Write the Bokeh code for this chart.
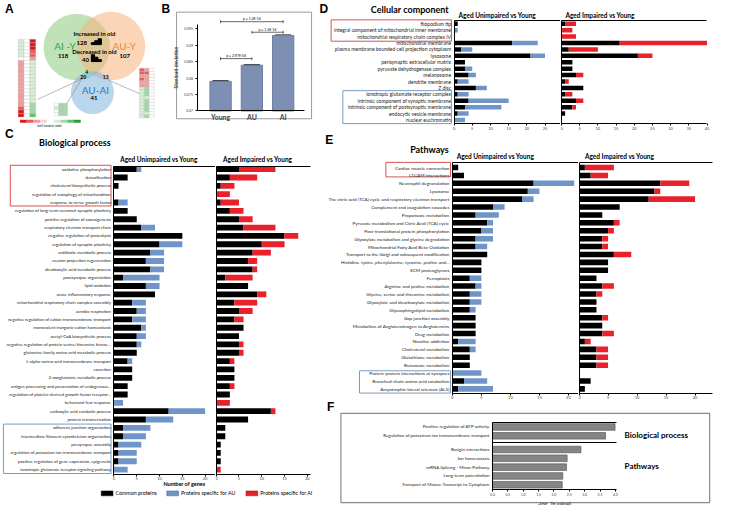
from bokeh.plotting import figure
from bokeh.layouts import row, column
from bokeh.models import (ColumnDataSource, Range1d, FixedTicker, LinearAxis, Label,
                          Whisker, TeeHead, LinearColorMapper)
from bokeh.core.properties import value
from bokeh.embed import file_html
from bokeh.resources import INLINE

# ======================= DATA =======================
# Panel A: Venn counts
venn_names = ["AI -Y", "AU-Y", "AU-AI"]
venn_unique = [118, 107, 41]
venn_inc_old = 128
venn_dec_old = 40
venn_all = 4
venn_ai_auai = 20
venn_au_auai = 13
# heatmap log2 ratios (approximate colour reading)
hm_left = [
    [0.20, 0.10, -0.85], [0.25, 0.10, -0.90], [0.20, 0.05, -0.80], [0.15, 0.10, -0.75],
    [0.20, 0.10, -0.70], [0.10, 0.00, -0.35], [-0.40, 0.05, 0.20], [-0.45, 0.00, 0.15],
    [-0.35, 0.05, 0.20], [-0.50, 0.00, 0.25], [-0.40, 0.05, 0.20], [-0.45, 0.05, 0.15],
    [-0.50, 0.00, 0.25], [-0.40, 0.05, 0.20], [-0.35, 0.00, 0.15], [-0.45, 0.05, 0.25],
    [-0.50, 0.05, 0.30], [-0.55, 0.00, 0.30], [-0.50, 0.05, 0.35], [-0.70, 0.10, 0.50],
    [-0.80, 0.10, 0.55], [-0.95, 0.05, 0.60]]
hm_mid = [[0.10, 0.45, 0.40], [0.15, 0.50, 0.45], [0.10, 0.40, 0.35], [0.10, 0.45, 0.50]]
hm_right = [
    [-0.60, -0.55, 0.05], [-0.65, -0.60, 0.00], [-0.55, -0.50, 0.05], [-0.60, -0.55, 0.00],
    [-0.50, -0.45, 0.05], [-0.45, -0.40, 0.00], [0.20, 0.35, 0.10], [0.25, 0.40, 0.05],
    [0.20, 0.35, 0.10], [0.15, 0.30, 0.05], [0.20, 0.40, 0.10], [0.25, 0.35, 0.05],
    [0.20, 0.40, 0.10], [0.15, 0.35, 0.05], [0.20, 0.30, 0.10], [0.25, 0.40, 0.05]]

# Panel B
b_groups = ["Young", "AU", "AI"]
b_sd = [0.0790, 0.0839, 0.0929]
b_se = [0.00012, 0.00012, 0.00012]
b_ticks = [0.07, 0.075, 0.08, 0.085, 0.09, 0.095]
b_cmp_a = [0, 1, 0]
b_cmp_b = [2, 2, 1]
b_cmp_y = [0.0971, 0.0939, 0.0859]
b_cmp_p = ["p = 1.2E-16", "p = 1.5E-14", "p = 2.97E-05"]

# Panel C: Biological process
c_terms = [
    "oxidative phosphorylation", "detoxification", "cholesterol biosynthetic process",
    "regulation of autophagy of mitochondrion", "response to nerve growth factor",
    "regulation of long-term neuronal synaptic plasticity", "positive regulation of axonogenesis",
    "respiratory electron transport chain", "negative regulation of proteolysis",
    "regulation of synaptic plasticity", "antibiotic metabolic process",
    "neuron projection regeneration", "dicarboxylic acid metabolic process",
    "postsynapse organization", "lipid oxidation", "acute inflammatory response",
    "mitochondrial respiratory chain complex assembly", "aerobic respiration",
    "negative regulation of cation transmembrane transport",
    "monovalent inorganic cation homeostasis", "acetyl-CoA biosynthetic process",
    "negative regulation of protein serine/threonine kinase...",
    "glutamine family amino acid metabolic process",
    "L-alpha-amino acid transmembrane transport", "excretion",
    "2-oxoglutarate metabolic process",
    "antigen processing and presentation of endogenous...",
    "regulation of platelet-derived growth factor receptor...",
    "behavioral fear response", "carboxylic acid catabolic process", "protein tetramerization",
    "adherens junction organization", "intermediate filament cytoskeleton organization",
    "presynapse assembly", "regulation of potassium ion transmembrane transport",
    "positive regulation of gene expression, epigenetic",
    "ionotropic glutamate receptor signaling pathway"]
c_common = [5, 3, 1, 0, 1, 3, 5, 6, 15, 10, 8, 7, 8, 2, 7, 9, 4, 5, 4, 6, 5, 5, 5, 3, 4, 4, 3, 3,
            0, 12, 7, 2, 2, 1, 1, 1, 0]
c_au = [1, 0, 0, 0, 2, 0, 0, 3, 0, 5, 3, 4, 3, 8, 3, 0, 3, 2, 3, 1, 2, 1, 0, 1, 0, 0, 0, 0,
        2, 8, 6, 6, 5, 5, 4, 4, 3]
c_ai = [8, 6, 3, 3, 4, 3, 3, 7, 3, 5, 4, 2, 1, 6, 0, 2, 5, 3, 2, 0, 0, 1, 1, 1, 0, 0, 1, 0,
        3, 1, 0, 0, 0, 0, 0, 0, 1]
c_ticks = [0, 5, 10, 15, 20]
legend_names = ["Common proteins", "Proteins specific for AU", "Proteins specific for AI"]

# Panel D: Cellular component
d_terms = [
    "filopodium tip", "integral component of mitochondrial inner membrane",
    "mitochondrial respiratory chain complex IV", "mitochondrial membrane",
    "plasma membrane bounded cell projection cytoplasm", "lysosome",
    "perisynaptic extracellular matrix", "pyruvate dehydrogenase complex", "melanosome",
    "dendrite membrane", "Z disc", "ionotropic glutamate receptor complex",
    "intrinsic component of synaptic membrane", "intrinsic component of postsynaptic membrane",
    "endocytic vesicle membrane", "nuclear euchromatin"]
d_common = [1, 0, 0, 16, 2, 21, 3, 3, 4, 1, 6, 1, 4, 3, 1, 0]
d_au = [0, 1, 0, 7, 3, 4, 0, 2, 2, 3, 3, 3, 11, 10, 3, 3]
d_ai = [3, 3, 4, 24, 8, 4, 0, 0, 2, 1, 0, 2, 2, 1, 0, 0]
d_ticks_au = [0, 5, 10, 15, 20, 25]
d_ticks_ai = [0, 5, 10, 15, 20, 25, 30, 35, 40]

# Panel E: Pathways
e_terms = [
    "Cardiac muscle contraction", "L1CAM interactions", "Neutrophil degranulation", "Lysosome",
    "The citric acid (TCA) cycle and respiratory electron transport",
    "Complement and coagulation cascades", "Propanoate metabolism",
    "Pyruvate metabolism and Citric Acid (TCA) cycle",
    "Post-translational protein phosphorylation",
    "Glyoxylate metabolism and glycine degradation",
    "Mitochondrial Fatty Acid Beta-Oxidation",
    "Transport to the Golgi and subsequent modification",
    "Histidine, lysine, phenylalanine, tyrosine, proline and...", "ECM proteoglycans",
    "Ferroptosis", "Arginine and proline metabolism", "Glycine, serine and threonine metabolism",
    "Glyoxylate and dicarboxylate metabolism", "Glycosphingolipid metabolism",
    "Gap junction assembly", "Metabolism of Angiotensinogen to Angiotensins", "Drug metabolism",
    "Nicotine addiction", "Cholesterol metabolism", "Glutathione metabolism",
    "Butanoate metabolism", "Protein-protein interactions at synapses",
    "Branched-chain amino acid catabolism", "Amyotrophic lateral sclerosis (ALS)"]
e_common = [1, 2, 14, 13, 12, 7, 4, 6, 5, 4, 4, 6, 5, 5, 3, 4, 3, 3, 3, 4, 4, 4, 1, 3, 3, 3, 0, 2, 1]
e_au = [0, 0, 7, 2, 2, 2, 4, 1, 2, 3, 2, 0, 0, 0, 2, 1, 2, 2, 1, 0, 0, 0, 3, 1, 0, 0, 5, 4, 6]
e_ai = [5, 3, 5, 1, 8, 0, 0, 1, 1, 1, 1, 3, 0, 0, 0, 2, 1, 0, 0, 1, 0, 2, 1, 2, 2, 2, 0, 0, 0]
e_ticks = [0, 5, 10, 15, 20]

# Panel F
f_bp = ["Positive regulation of ATP activity",
        "Regulation of potassium ion transmembrane transport"]
f_bp_vals = [3.99, 3.68]
f_pw = ["Basigin interactions", "Ion homeostasis", "mRNA Splicing - Minor Pathway",
        "Long-term potentiation", "Transport of Mature Transcript to Cytoplasm"]
f_pw_vals = [2.88, 2.43, 2.41, 2.29, 2.27]
f_ticks = [0.0, 0.5, 1.0, 1.5, 2.0, 2.5, 3.0, 3.5, 4.0]

# ======================= STYLE / HELPERS =======================
FONT = "Lato"
LETTER_FONT = "Liberation Sans"
BLUE = "#6f94c8"
RED = "#e8212a"
BOX_RED = "#d9534f"
BOX_BLUE = "#7a9cc6"
SX = 716 / 732
SY = 505 / 521


def make_panel(rx0, ry0, rx1, ry1, dx, dy):
    """figure covering a region of the reference picture; frame = whole figure"""
    L, R = round(rx0 * SX), round(rx1 * SX)
    T, B = round(ry0 * SY), round(ry1 * SY)
    ex0, ex1, ey0, ey1 = L / SX, R / SX, T / SY, B / SY
    p = figure(width=R - L, height=B - T, x_range=Range1d(dx(ex0), dx(ex1)),
               y_range=Range1d(dy(ey1), dy(ey0)), min_border=0, title=None,
               output_backend="svg", toolbar_location=None)
    p.xgrid.visible = False
    p.ygrid.visible = False
    p.outline_line_color = None
    return p


def lab(p, tr, rx, ry, text, size, color="black", bold=False, align="left", font=FONT,
        angle=0):
    dx, dy = tr
    p.add_layout(Label(x=dx(rx), y=dy(ry), text=text, text_font=font,
                       text_font_size=f"{size}px", text_font_style="bold" if bold else "normal",
                       text_color=color, text_align=align, text_baseline="middle", angle=angle))


def box(p, tr, x0, y0, x1, y1, line_color=None, fill_color=None, lw=1.0):
    dx, dy = tr
    p.quad(left=dx(x0), right=dx(x1), top=dy(y0), bottom=dy(y1), fill_color=fill_color,
           line_color=line_color, line_width=lw)


def style_xaxis(ax, ticks, loc, bounds, size="4px"):
    ax.fixed_location = loc
    ax.bounds = bounds
    ax.ticker = FixedTicker(ticks=ticks)
    ax.major_label_text_font = FONT
    ax.major_label_text_font_size = size
    ax.major_tick_out = 2
    ax.major_tick_in = 0
    ax.minor_tick_out = 0
    ax.minor_tick_in = 0
    ax.major_label_standoff = 1
    ax.axis_line_width = 1


def line_axis(p, loc, bounds):
    a = LinearAxis(fixed_location=loc, bounds=bounds, ticker=FixedTicker(ticks=[]),
                   major_tick_out=0, major_tick_in=0, minor_tick_out=0, minor_tick_in=0,
                   axis_line_width=1)
    p.add_layout(a, "above")


def bar_sub(terms, common, spec, color, bbox, ox, ppu, r0, rs, y_top, y_bottom, x_right,
            ticks, label_px, subtitle, sub_xy):
    dx = lambda rx: (rx - ox) / ppu
    dy = lambda ry: (ry - r0) / rs
    p = make_panel(*bbox, dx, dy)
    idx = list(range(len(terms)))
    src = ColumnDataSource(dict(idx=idx, common=common, spec=spec))
    p.hbar_stack(["common", "spec"], y="idx", height=0.7, color=["black", color],
                 line_color=None, source=src)
    xr = dx(x_right)
    style_xaxis(p.xaxis[0], ticks, dy(y_bottom), (0, xr))
    ay = p.yaxis[0]
    ay.fixed_location = 0
    ay.bounds = tuple(sorted((dy(y_top), dy(y_bottom))))
    ay.major_tick_out = 0
    ay.major_tick_in = 0
    ay.minor_tick_out = 0
    ay.minor_tick_in = 0
    ay.axis_line_width = 1
    if label_px:
        ay.ticker = FixedTicker(ticks=idx)
        ay.major_label_overrides = {i: t for i, t in zip(idx, terms)}
        ay.major_label_text_font = FONT
        ay.major_label_text_font_size = f"{label_px}px"
        ay.major_label_text_color = "#1a1a1a"
        ay.major_label_standoff = 3
    else:
        ay.ticker = FixedTicker(ticks=[])
    line_axis(p, dy(y_top), (0, xr))
    lab(p, (dx, dy), sub_xy[0], sub_xy[1], subtitle, 6.5, bold=True, align="center")
    return p, (dx, dy)


# ======================= PANEL A =======================
ident = lambda v: v
pa = make_panel(0, 0, 175, 131, ident, ident)
pa.axis.visible = False
trA = (ident, ident)

venn_x = [78, 113, 94]
venn_y = [48, 47, 95]
venn_r = [34, 35, 22]
pa.circle(x=venn_x, y=venn_y, radius=venn_r,
          fill_color=["#8dca80", "#f7b37d", "#82b4df"], fill_alpha=0.55, line_color=None)

palette = ["#d7191c", "#e65b5b", "#f29a9a", "#fad4d4", "#ffffff",
           "#d6eed6", "#a2d8a4", "#66bd6e", "#2b9a3f"]
mapper = LinearColorMapper(palette=palette, low=-1, high=1)


def heat(mat, x0, y0, cw, ch):
    xs, ys, vs = [], [], []
    for i, r in enumerate(mat):
        for j, v in enumerate(r):
            xs.append(x0 + (j + 0.5) * cw)
            ys.append(y0 + (i + 0.5) * ch)
            vs.append(v)
    s = ColumnDataSource(dict(x=xs, y=ys, v=vs))
    pa.rect(x="x", y="y", width=cw, height=ch, source=s,
            fill_color={"field": "v", "transform": mapper}, line_color="#bbbbbb", line_width=0.3)


heat(hm_left, 18, 40, 6, 3.65)
heat(hm_mid, 55, 106, 4.5, 3.2)
heat(hm_right, 142, 70, 5, 3.2)

pa.segment(x0=[83, 83, 110], y0=[81, 81, 82], x1=[38, 68, 142], y1=[102, 106, 96],
           line_color="#888888", line_width=0.6)

cb_w = 62 / len(palette)
pa.rect(x=[20 + (i + 0.5) * cb_w for i in range(len(palette))], y=[124.5] * len(palette),
        width=cb_w, height=3, fill_color=palette, line_color=None)

pa.vbar(x=[94.5, 98, 101.5], bottom=45.5, top=[43.5, 41.5, 39.5], width=3.3, color="black")
pa.vbar(x=[94.5, 98, 101.5], bottom=63, top=[56, 58.5, 61], width=3.3, color="black")

lab(pa, trA, 9, 9, "A", 12, bold=True, align="center", font=LETTER_FONT)
lab(pa, trA, 169, 9, "B", 12, bold=True, align="center", font=LETTER_FONT)
lab(pa, trA, 66, 46.5, venn_names[0], 10, color="#33a53a", align="center")
lab(pa, trA, 64, 57, str(venn_unique[0]), 6, bold=True, align="center")
lab(pa, trA, 126.5, 46.5, venn_names[1], 10, color="#ef8a2e", align="center")
lab(pa, trA, 127, 57, str(venn_unique[1]), 6, bold=True, align="center")
lab(pa, trA, 97, 92, venn_names[2], 10, color="#2b7bbf", align="center")
lab(pa, trA, 95.5, 101, str(venn_unique[2]), 6, bold=True, align="center")
lab(pa, trA, 96, 34, "Increased in old", 6, bold=True, align="center")
lab(pa, trA, 83, 43.5, str(venn_inc_old), 6, bold=True, align="center")
lab(pa, trA, 96, 52.5, "Decreased in old", 6, bold=True, align="center")
lab(pa, trA, 87, 61.5, str(venn_dec_old), 6, bold=True, align="center")
lab(pa, trA, 88, 74, str(venn_all), 5, bold=True, align="center")
lab(pa, trA, 84.5, 79, str(venn_ai_auai), 5, bold=True, align="center")
lab(pa, trA, 107.5, 79, str(venn_au_auai), 5, bold=True, align="center")
lab(pa, trA, 50, 129.3, "log2 (protein ratio)", 3, align="center")

# ======================= PANEL B =======================
bdx = lambda rx: (rx - 225) / 32
bdy = lambda ry: b_ticks[0] + (114 - ry) / 3400
trB = (bdx, bdy)
pb = make_panel(175, 0, 322, 131, bdx, bdy)
b_x = list(range(len(b_groups)))
srcb = ColumnDataSource(dict(x=b_x, sd=b_sd,
                             up=[s + e for s, e in zip(b_sd, b_se)],
                             lo=[s - e for s, e in zip(b_sd, b_se)]))
pb.vbar(x="x", top="sd", bottom=b_ticks[0], width=0.68, fill_color="#7d90b3",
        line_color="#6b7fa3", source=srcb)
pb.add_layout(Whisker(base="x", upper="up", lower="lo", source=srcb, line_color="black",
                      line_width=0.8,
                      upper_head=TeeHead(size=16, line_color="black", line_width=1.2),
                      lower_head=TeeHead(size=16, line_color="black", line_width=1.2)))
bx0 = [b_x[i] for i in b_cmp_a]
bx1 = [b_x[j] for j in b_cmp_b]
pb.segment(x0=bx0, x1=bx1, y0=b_cmp_y, y1=b_cmp_y, line_color="black", line_width=0.6)
pb.scatter(x=bx0 + bx1, y=b_cmp_y + b_cmp_y, marker="dash", angle=1.5708, size=3,
           line_color="black", line_width=0.6)
pb.text(x=[(a + b) / 2 for a, b in zip(bx0, bx1)], y=b_cmp_y, text=b_cmp_p,
        text_font=value(FONT), text_font_size=value("3.5px"), text_align="center",
        text_baseline="bottom", y_offset=-0.5, text_color="black")
axb = pb.xaxis[0]
axb.fixed_location = b_ticks[0]
axb.bounds = (bdx(201), bdx(311))
axb.ticker = FixedTicker(ticks=b_x)
axb.major_label_overrides = {i: g for i, g in zip(b_x, b_groups)}
axb.major_label_text_font = FONT
axb.major_label_text_font_size = "7px"
axb.major_label_text_font_style = "bold"
axb.major_tick_out = 0
axb.major_tick_in = 0
axb.minor_tick_out = 0
axb.minor_tick_in = 0
axb.major_label_standoff = 2
ayb = pb.yaxis[0]
ayb.fixed_location = bdx(201)
ayb.bounds = (b_ticks[0], bdy(25))
ayb.ticker = FixedTicker(ticks=b_ticks)
ayb.major_label_overrides = {t: f"{t:g}" for t in b_ticks}
ayb.major_label_text_font = FONT
ayb.major_label_text_font_size = "3.5px"
ayb.major_tick_out = 2
ayb.major_tick_in = 0
ayb.minor_tick_out = 0
ayb.minor_tick_in = 0
ayb.major_label_standoff = 2
ayb.axis_label = "Standard deviation"
ayb.axis_label_text_font = FONT
ayb.axis_label_text_font_size = "5px"
ayb.axis_label_text_font_style = "bold"
ayb.axis_label_standoff = 3
box(pb, trB, 180, 12, 318, 122, line_color="#9a9a9a", lw=1)

# ======================= PANEL C =======================
pc_au, trC = bar_sub(c_terms, c_common, c_au, BLUE, (0, 131, 219.8, 503), 116, 4.66, 174,
                     8.61, 171, 489, 219.8, c_ticks, 4.3, "Aged Unimpaired vs Young", (162, 164))
pc_ai, trC2 = bar_sub(c_terms, c_common, c_ai, RED, (219.8, 131, 322, 503), 220.5, 4.66, 174,
                      8.61, 171, 489, 317, c_ticks, 0, "Aged Impaired vs Young", (263, 164))
lab(pc_au, trC, 9, 137.5, "C", 12, bold=True, align="center", font=LETTER_FONT)
lab(pc_au, trC, 76, 146, "Biological process", 9, bold=True, align="center")
lab(pc_au, trC, 188, 498.5, "Number of genes", 5.5, bold=True, align="center")
box(pc_au, trC, 10, 170, 113, 212, line_color=BOX_RED, lw=1)
box(pc_au, trC, 3, 437, 113, 488, line_color=BOX_BLUE, lw=1)

# legend strip under panel C
pl = make_panel(0, 503, 322, 521, ident, ident)
pl.axis.visible = False
leg_colors = ["black", BLUE, RED]
leg_edges = ["black", "#40608f", "#8f1010"]
leg_x0 = [103, 170, 251]
for c, ec, x0, name in zip(leg_colors, leg_edges, leg_x0, legend_names):
    box(pl, trA, x0, 506, x0 + 12, 511, fill_color=c, line_color=ec, lw=0.5)
    lab(pl, trA, x0 + 14.5, 508.5, name, 5.3)

# ======================= PANEL D =======================
pd_au, trD = bar_sub(d_terms, d_common, d_au, BLUE, (322, 0, 573, 136), 463.7, 3.72, 24,
                     6.62, 21, 127, 573, d_ticks_au, 5, "Aged Unimpaired vs Young", (508, 15))
pd_ai, trD2 = bar_sub(d_terms, d_common, d_ai, RED, (573, 0, 732, 136), 573.5, 3.72, 24,
                      6.62, 21, 127, 722, d_ticks_ai, 0, "Aged Impaired vs Young", (613, 15))
lab(pd_au, trD, 330.5, 9, "D", 12, bold=True, align="center", font=LETTER_FONT)
lab(pd_au, trD, 418.5, 9, "Cellular component", 9, bold=True, align="center")
box(pd_au, trD, 338, 20, 461, 42, line_color=BOX_RED, lw=1)
box(pd_au, trD, 350, 93, 461, 127, line_color=BOX_BLUE, lw=1)

# ======================= PANEL E =======================
pe_au, trE = bar_sub(e_terms, e_common, e_au, BLUE, (322, 136, 591, 412), 462, 5.93, 172.3,
                     8.157, 167, 405, 591, e_ticks, 4.6, "Aged Unimpaired vs Young", (506, 161))
pe_ai, trE2 = bar_sub(e_terms, e_common, e_ai, RED, (591, 136, 732, 412), 591.5, 5.93, 172.3,
                      8.157, 167, 405, 728, e_ticks, 0, "Aged Impaired vs Young", (633, 161))
lab(pe_au, trE, 336, 144, "E", 12, bold=True, align="center", font=LETTER_FONT)
lab(pe_au, trE, 438.5, 153.5, "Pathways", 9, bold=True, align="center")
box(pe_au, trE, 394, 167, 460, 182, line_color=BOX_RED, lw=1)
box(pe_au, trE, 367, 382, 460, 405, line_color=BOX_BLUE, lw=1)

# ======================= PANEL F =======================
GAP = 0.55
fdx = lambda rx: (rx - 503) / 31.4
fdy = lambda ry: (ry - 440) / 9.1
trF = (fdx, fdy)
pf = make_panel(322, 412, 732, 521, fdx, fdy)
f_terms = f_bp + f_pw
f_vals = f_bp_vals + f_pw_vals
f_y = [i for i in range(len(f_bp))] + [len(f_bp) + GAP + i for i in range(len(f_pw))]
pf.hbar(y=f_y, right=f_vals, left=0, height=0.75, fill_color="#858585",
        line_color="#4d4d4d", line_width=0.6)
fx_right = fdx(630)
style_xaxis(pf.xaxis[0], f_ticks, fdy(505), (0, fx_right), size="3.5px")
pf.xaxis[0].major_label_overrides = {t: f"{t:.1f}" for t in f_ticks}
pf.xaxis[0].axis_label = "-log\u2081\u2080(p value)"
pf.xaxis[0].axis_label_text_font = FONT
pf.xaxis[0].axis_label_text_font_size = "5.5px"
pf.xaxis[0].axis_label_text_font_style = "bold"
pf.xaxis[0].axis_label_standoff = 2
ayf = pf.yaxis[0]
ayf.fixed_location = 0
ayf.bounds = (fdy(435), fdy(505))
ayf.ticker = FixedTicker(ticks=f_y)
ayf.major_label_overrides = {y: t for y, t in zip(f_y, f_terms)}
ayf.major_label_text_font = FONT
ayf.major_label_text_font_size = "4.5px"
ayf.major_label_text_color = "#1a1a1a"
ayf.major_tick_out = 0
ayf.major_tick_in = 0
ayf.minor_tick_out = 0
ayf.minor_tick_in = 0
ayf.major_label_standoff = 3
line_axis(pf, fdy(435), (0, fx_right))
line_axis(pf, len(f_bp) - 0.5 + GAP / 2, (0, fx_right))
lab(pf, trF, 337.5, 419.5, "F", 12, bold=True, align="center", font=LETTER_FONT)
box(pf, trF, 348, 426, 725, 518, line_color="#8a8a8a", lw=1.2)
lab(pf, trF, 638, 448, "Biological process", 8, bold=True)
lab(pf, trF, 638, 480, "Pathways", 8, bold=True)

# ======================= LAYOUT =======================
left = column(row(pa, pb), row(pc_au, pc_ai), pl)
right = column(row(pd_au, pd_ai), row(pe_au, pe_ai), pf)
layout = row(left, right)

open("out.html", "w").write(file_html(layout, INLINE))
